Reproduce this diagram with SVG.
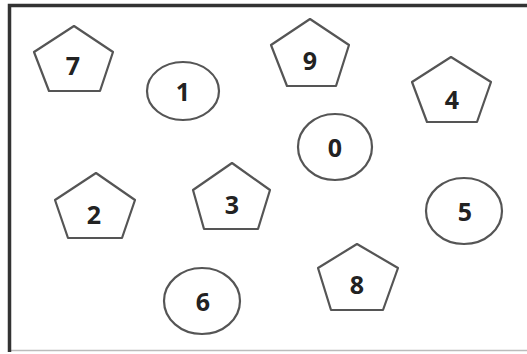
<svg xmlns="http://www.w3.org/2000/svg" width="527" height="354" viewBox="0 0 527 354">
<style>
.s{fill:#fff;stroke:#555;stroke-width:2.2;stroke-linejoin:round}
.t{font-family:"Open Sans","Liberation Sans",sans-serif;font-weight:bold;font-size:25px;fill:#222;text-anchor:middle;dominant-baseline:central}
</style>
<rect x="0" y="0" width="527" height="354" fill="#fff"/>
<rect x="9.5" y="5.5" width="520" height="345" fill="#fff" stroke="#bbb" stroke-width="1.5"/>
<path d="M9.5 352 V5.5 H527" fill="none" stroke="#333" stroke-width="3.5"/>
<g id="connectors"/>
<g id="n7"><polygon class="s" points="74,26 113,52 100,91 49,91 34,52"/><text class="t" x="73" y="65">7</text></g>
<g id="n1"><ellipse class="s" cx="183" cy="91" rx="36" ry="29"/><text class="t" x="183" y="91">1</text></g>
<g id="n9"><polygon class="s" points="310,19 349,45 336,86 287,86 271,45"/><text class="t" x="310" y="60">9</text></g>
<g id="n4"><polygon class="s" points="451,57 491,82 477,122 427,122 412,82"/><text class="t" x="452" y="99">4</text></g>
<g id="n0"><ellipse class="s" cx="335" cy="147" rx="37" ry="33"/><text class="t" x="335" y="147">0</text></g>
<g id="n2"><polygon class="s" points="96,173 135,200 122,238 68,238 55,200"/><text class="t" x="94" y="214">2</text></g>
<g id="n3"><polygon class="s" points="232,163 270,190 258,229 204,229 193,190"/><text class="t" x="232" y="204">3</text></g>
<g id="n5"><ellipse class="s" cx="464" cy="211" rx="38" ry="33"/><text class="t" x="465" y="211">5</text></g>
<g id="n8"><polygon class="s" points="357,244 398,268 383,310 331,310 318,268"/><text class="t" x="357" y="284">8</text></g>
<g id="n6"><ellipse class="s" cx="202" cy="301" rx="38" ry="33"/><text class="t" x="203" y="301">6</text></g>
</svg>
